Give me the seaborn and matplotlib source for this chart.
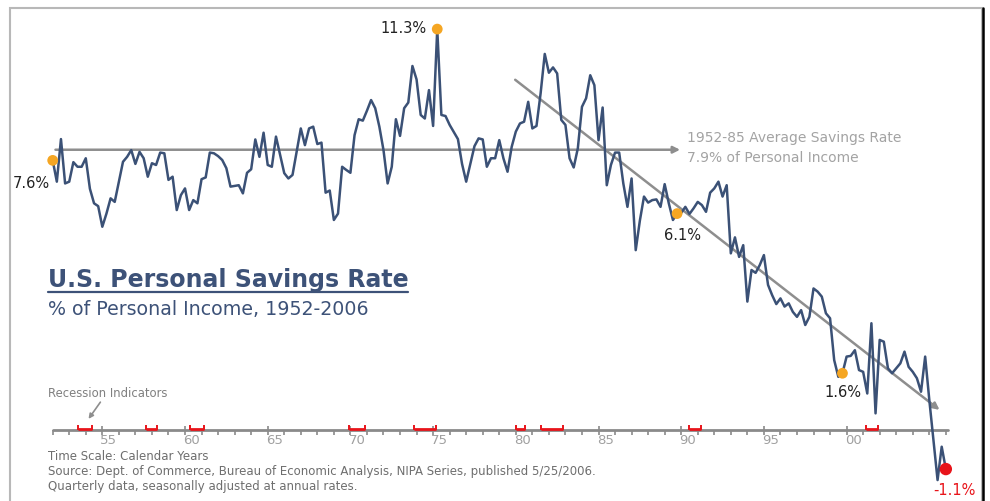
import numpy as np
import pandas as pd
import seaborn as sns
from matplotlib import pyplot as plt
from matplotlib.lines import Line2D
from matplotlib.patches import Rectangle

sns.set_style("white")
plt.rcParams['font.family'] = ['DejaVu Sans']

# quarterly personal savings rate (% of personal income), 1952Q1 .. 2006Q1
rate = [
    7.6, 7.0, 8.2, 6.95,      # 1952
    7.0, 7.55, 7.42, 7.42,    # 1953
    7.66, 6.8, 6.39, 6.31,    # 1954
    5.73, 6.1, 6.53, 6.43,    # 1955
    7.0, 7.56, 7.7, 7.89,     # 1956
    7.5, 7.84, 7.66, 7.14,    # 1957
    7.52, 7.47, 7.82, 7.8,    # 1958
    7.05, 7.14, 6.2, 6.62,    # 1959
    6.81, 6.2, 6.48, 6.39,    # 1960
    7.07, 7.12, 7.82, 7.8,    # 1961
    7.72, 7.61, 7.38, 6.86,   # 1962
    6.88, 6.9, 6.67, 7.25,    # 1963
    7.35, 8.19, 7.7, 8.38,    # 1964
    7.47, 7.42, 8.27, 7.75,   # 1965
    7.24, 7.09, 7.19, 7.84,   # 1966
    8.5, 8.03, 8.5, 8.55,     # 1967
    8.06, 8.1, 6.69, 6.75,    # 1968
    5.92, 6.1, 7.42, 7.33,    # 1969
    7.25, 8.31, 8.76, 8.72,   # 1970
    9.0, 9.3, 9.07, 8.55,     # 1971
    7.89, 6.95, 7.42, 8.76,   # 1972
    8.29, 9.07, 9.23, 10.26,  # 1973
    9.88, 8.88, 8.78, 9.58,   # 1974
    8.57, 11.3, 8.88, 8.85,   # 1975
    8.6, 8.4, 8.2, 7.5,       # 1976
    7.0, 7.5, 8.0, 8.22,      # 1977
    8.19, 7.42, 7.66, 7.66,   # 1978
    8.17, 7.66, 7.28, 7.98,   # 1979
    8.41, 8.64, 8.69, 9.25,   # 1980
    8.5, 8.57, 9.49, 10.6,    # 1981
    10.07, 10.22, 10.05, 8.74,  # 1982
    8.6, 7.66, 7.4, 7.94,     # 1983
    9.11, 9.35, 10.0, 9.72,   # 1984
    8.17, 9.09, 6.9, 7.47,    # 1985
    7.82, 7.82, 6.95, 6.29,   # 1986
    7.09, 5.07, 5.9, 6.58,    # 1987
    6.41, 6.48, 6.5, 6.29,    # 1988
    6.93, 6.39, 5.92, 6.1,    # 1989
    6.12, 6.29, 6.09, 6.25,   # 1990
    6.43, 6.34, 6.15, 6.69,   # 1991
    6.81, 7.0, 6.58, 6.9,     # 1992
    4.98, 5.43, 4.88, 5.21,   # 1993
    3.62, 4.51, 4.43, 4.65,   # 1994
    4.93, 4.09, 3.8, 3.55,    # 1995
    3.71, 3.48, 3.57, 3.33,   # 1996
    3.19, 3.38, 2.96, 3.19,   # 1997
    3.99, 3.9, 3.76, 3.29,    # 1998
    3.15, 1.97, 1.5, 1.6,     # 1999
    2.07, 2.09, 2.25, 1.69,   # 2000
    1.64, 1.03, 3.01, 0.47,   # 2001
    2.54, 2.49, 1.74, 1.6,    # 2002
    1.74, 1.88, 2.21, 1.78,   # 2003
    1.64, 1.46, 1.08, 2.07,   # 2004
    0.85, -0.28, -1.41, -0.47,  # 2005
    -1.1,                     # 2006
]
years = 1952 + np.arange(len(rate)) / 4

# highlighted points
hl_years = [1952.0, 1975.25, 1989.75, 1999.75]
hl_vals = [7.6, 11.3, 6.1, 1.6]
last_year = 2006.0
last_val = -1.1

avg_rate = 7.9
avg_end = 1990.1
trend_start = (1979.83, 9.92)
trend_end = (2005.75, 0.52)

# NBER recessions (decimal years)
rec_start = [1953.5, 1957.62, 1960.29, 1969.92, 1973.87, 1980.0, 1981.5, 1990.5, 2001.17]
rec_end = [1954.38, 1958.29, 1961.12, 1970.87, 1975.2, 1980.54, 1982.87, 1991.2, 2001.87]

tick_years = list(range(1952, 2007))
label_years = [1955, 1960, 1965, 1970, 1975, 1980, 1985, 1990, 1995, 2000]
tick_labels = ['55', '60', '65', '70', '75', '80', '85', '90', '95', '00']

navy = '#3b5176'
orange = '#f5a623'
red = '#e8141a'
grey_arrow = '#8e8e8e'

df = pd.DataFrame({'year': years, 'rate': rate})

W, H = 990, 501
fig = plt.figure(figsize=(W / 100, H / 100), dpi=100)
ax = fig.add_axes([0, 0, 1, 1])

# frame
fig.patches.append(Rectangle((10 / W, -0.05), 972 / W, (H - 8) / H + 0.05,
                             transform=fig.transFigure, fill=False,
                             edgecolor='#b8b8b8', lw=1.5, zorder=0))
fig.lines.append(Line2D([983 / W, 983 / W], [0, 1 - 8 / H], transform=fig.transFigure,
                        color='black', lw=1.8))

# time axis
ax.plot([tick_years[0], tick_years[-1] + 0.15], [0, 0], color='#8a8a8a', lw=2, zorder=2)
ax.vlines(tick_years, -0.15, 0, color='#8a8a8a', lw=1.2, zorder=2)
ax.vlines(label_years, 0, 0.1, color='#8a8a8a', lw=1.2, zorder=2)
for y, lab in zip(label_years, tick_labels):
    ax.text(y + 0.4, -0.12, lab, ha='center', va='top', fontsize=9.5, color='#a0a0a0')

# recession bars
ax.hlines([0.03] * len(rec_start), rec_start, rec_end, color=red, lw=2.0, zorder=3)
ax.vlines(rec_start + rec_end, 0.0, 0.13, color=red, lw=1.4, zorder=3)

# reference arrows
ax.annotate('', xy=(avg_end, avg_rate), xytext=(years[0], avg_rate),
            arrowprops=dict(arrowstyle='-|>', color=grey_arrow, lw=1.8, mutation_scale=10),
            zorder=1)
ax.annotate('', xy=trend_end, xytext=trend_start,
            arrowprops=dict(arrowstyle='-|>', color=grey_arrow, lw=1.8, mutation_scale=10),
            zorder=1)
ax.annotate('', xy=(1954.07, 0.25), xytext=(1954.98, 0.85),
            arrowprops=dict(arrowstyle='-|>', color=grey_arrow, lw=1.2, mutation_scale=7))

# savings series
sns.lineplot(data=df, x='year', y='rate', ax=ax, color=navy, lw=1.8, zorder=4)

sns.scatterplot(x=hl_years, y=hl_vals, ax=ax, color=orange, s=60, edgecolor='none', zorder=5)
sns.scatterplot(x=[last_year], y=[last_val], ax=ax, color=red, s=80, edgecolor='none', zorder=5)

ax.set_xlim(1948.814, 2008.67)
ax.set_ylim(-2.0, 12.12)
ax.axis('off')

lab_kw = dict(fontsize=10.5, color='#222222')
ax.annotate('7.6%', (hl_years[0], hl_vals[0]), xytext=(-2, -20), textcoords='offset points',
            ha='right', va='baseline', **lab_kw)
ax.annotate('11.3%', (hl_years[1], hl_vals[1]), xytext=(-8, -3), textcoords='offset points',
            ha='right', va='baseline', **lab_kw)
ax.annotate('6.1%', (hl_years[2], hl_vals[2]), xytext=(4, -19), textcoords='offset points',
            ha='center', va='baseline', **lab_kw)
ax.annotate('1.6%', (hl_years[3], hl_vals[3]), xytext=(0, -17), textcoords='offset points',
            ha='center', va='baseline', **lab_kw)
ax.annotate('-1.1%', (last_year, last_val), xytext=(6, -19), textcoords='offset points',
            ha='center', va='baseline', fontsize=10.5, color=red)

# average label
fig.text(687 / W, 1 - 142 / H, '1952-85 Average Savings Rate', fontsize=10,
         color='#a3a3a3', va='baseline')
fig.text(687 / W, 1 - 162 / H, '7.9% of Personal Income', fontsize=10,
         color='#a3a3a3', va='baseline')

# titles
fig.text(48 / W, 1 - 287 / H, 'U.S. Personal Savings Rate', fontsize=17,
         fontweight='bold', color='#3d5278', va='baseline')
fig.lines.append(Line2D([48 / W, 408 / W], [1 - 292 / H, 1 - 292 / H],
                        transform=fig.transFigure, color='#3d5278', lw=1.6))
fig.text(48 / W, 1 - 315 / H, '% of Personal Income, 1952-2006', fontsize=13.7,
         color='#3d5278', va='baseline')

fig.text(48 / W, 1 - 397 / H, 'Recession Indicators', fontsize=8.4, color='#808080',
         va='baseline')

foot_kw = dict(fontsize=8.5, color='#6e6e6e', va='baseline')
fig.text(48 / W, 1 - 460 / H, 'Time Scale: Calendar Years', **foot_kw)
fig.text(48 / W, 1 - 475 / H,
         'Source: Dept. of Commerce, Bureau of Economic Analysis, NIPA Series, published 5/25/2006.',
         **foot_kw)
fig.text(48 / W, 1 - 490 / H, 'Quarterly data, seasonally adjusted at annual rates.', **foot_kw)

fig.savefig('out.png', dpi=100, facecolor='white')
